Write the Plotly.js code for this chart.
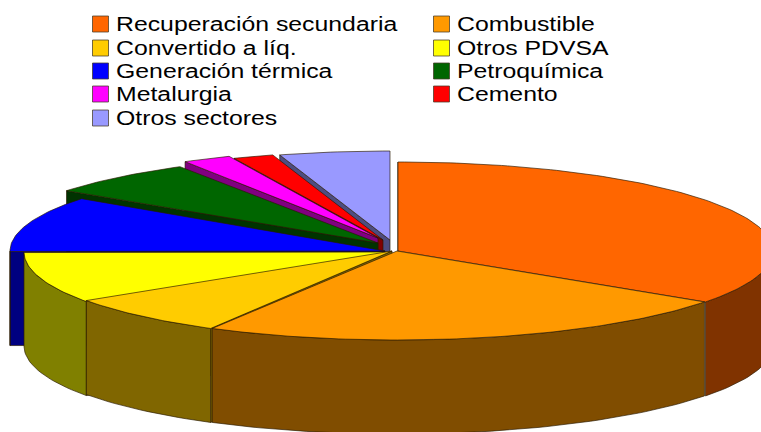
<!DOCTYPE html>
<html><head><meta charset="utf-8">
<script src="https://cdn.plot.ly/plotly-3.0.1.min.js"></script>
<style>html,body{margin:0;padding:0;background:#fff}#c{width:761px;height:432px}</style>
</head><body><div id="c"></div>
<script>
var categories = ["Recuperación secundaria","Combustible","Convertido a líq.","Otros PDVSA","Generación térmica","Petroquímica","Metalurgia","Cemento","Otros sectores"];
var shares = [34.7,23.5,7.4,9.3,10.1,6.4,2.1,1.75,4.75];
var topColors = ["#FF6600","#FF9900","#FFCC00","#FFFF00","#0000FF","#006600","#FF00FF","#FF0000","#9999FF"];
var wallColors = ["#803300","#804D00","#806600","#808000","#000080","#003300","#800080","#800000","#4D4D80"];
// apex of each slice (exploded pie) in plot pixels
var apexX = [398,397,392,392,385,378,378,383,390];
var apexY = [251,251,251,252,251,243,238,240,240];
var radiusX = [375,375,368,368,375,385,375,375,375];
var radiusY = 89, depth = 94;
var drawOrder = [8,7,6,5,4,0,3,2,1];
var legendCol = [92,433], legendTextCol = [116,457], legendRows = [24,48,71,94,118];

var starts = [], ang = 0;
shares.forEach(function(s){ starts.push(ang); ang += s*3.6; });

function pt(i,a){ var r=a*Math.PI/180; return [apexX[i]+radiusX[i]*Math.sin(r), apexY[i]-radiusY*Math.cos(r)]; }
function poly(xs,ys,fill,line,name){
  return {type:'scatter',mode:'lines',x:xs,y:ys,fill:'toself',fillcolor:fill,
    line:{color:line,width:1},hoverinfo:'text',text:name,showlegend:false};
}
var traces=[];
var edge='rgba(40,25,0,0.65)';
drawOrder.forEach(function(i){
  var a0=starts[i], a1=a0+shares[i]*3.6, name=categories[i];
  // cut wall at the slice's starting edge (visible for the upper-left slices)
  var p=pt(i,a0);
  if(a0>=180 || i===0){
    traces.push(poly([apexX[i],p[0],p[0],apexX[i],apexX[i]],[apexY[i],p[1],p[1]+depth,apexY[i]+depth,apexY[i]],wallColors[i],edge,name));
  }
  // outer rim wall where it faces the viewer
  var w0=Math.max(a0,90), w1=Math.min(a1,270);
  if(w1>w0){
    var xs=[],ys=[],xb=[],yb=[];
    for(var a=w0;a<w1;a+=1.5){var q=pt(i,a);xs.push(q[0]);ys.push(q[1]);xb.unshift(q[0]);yb.unshift(q[1]+depth);}
    var q=pt(i,w1);xs.push(q[0]);ys.push(q[1]);xb.unshift(q[0]);yb.unshift(q[1]+depth);
    traces.push(poly(xs.concat(xb,[xs[0]]),ys.concat(yb,[ys[0]]),wallColors[i],edge,name));
  }
  // top face
  var tx=[apexX[i]],ty=[apexY[i]];
  for(var a=a0;a<a1;a+=1){var q=pt(i,a);tx.push(q[0]);ty.push(q[1]);}
  var q=pt(i,a1);tx.push(q[0]);ty.push(q[1]);tx.push(apexX[i]);ty.push(apexY[i]);
  traces.push(poly(tx,ty,topColors[i],edge,name));
});
// legend
var sx=[],sy=[],anns=[];
categories.forEach(function(n,i){
  var c=i<8?i%2:0, r=i<8?Math.floor(i/2):4;
  sx.push(legendCol[c]+8.5); sy.push(legendRows[r]);
  anns.push({x:legendTextCol[c],y:legendRows[r],xref:'x',yref:'y',text:n,showarrow:false,
    xanchor:'left',yanchor:'middle',xshift:-2,font:{family:'Liberation Sans, Arial, sans-serif',size:20,color:'#000'}});
});
traces.push({type:'scatter',mode:'markers',x:sx,y:sy,hoverinfo:'text',text:categories,showlegend:false,
  marker:{symbol:'square',size:16,color:topColors,line:{color:'rgba(70,60,40,0.75)',width:1}}});

var layout={width:761,height:432,margin:{l:0,r:0,t:0,b:0},paper_bgcolor:'#fff',plot_bgcolor:'#fff',showlegend:false,
  xaxis:{range:[0,761],visible:false,fixedrange:true},
  yaxis:{range:[432,0],visible:false,fixedrange:true},
  annotations:anns};
Plotly.newPlot('c',traces,layout,{displayModeBar:false,staticPlot:true}).then(function(){
  var stretch=1.24;
  document.querySelectorAll('#c .annotation-text').forEach(function(el){
    var b=el.getBBox(), len=el.getComputedTextLength();
    el.style.textAnchor='start';
    el.setAttribute('x',b.x);
    el.setAttribute('textLength',len*stretch);
    el.setAttribute('lengthAdjust','spacingAndGlyphs');
  });
});
</script></body></html>
